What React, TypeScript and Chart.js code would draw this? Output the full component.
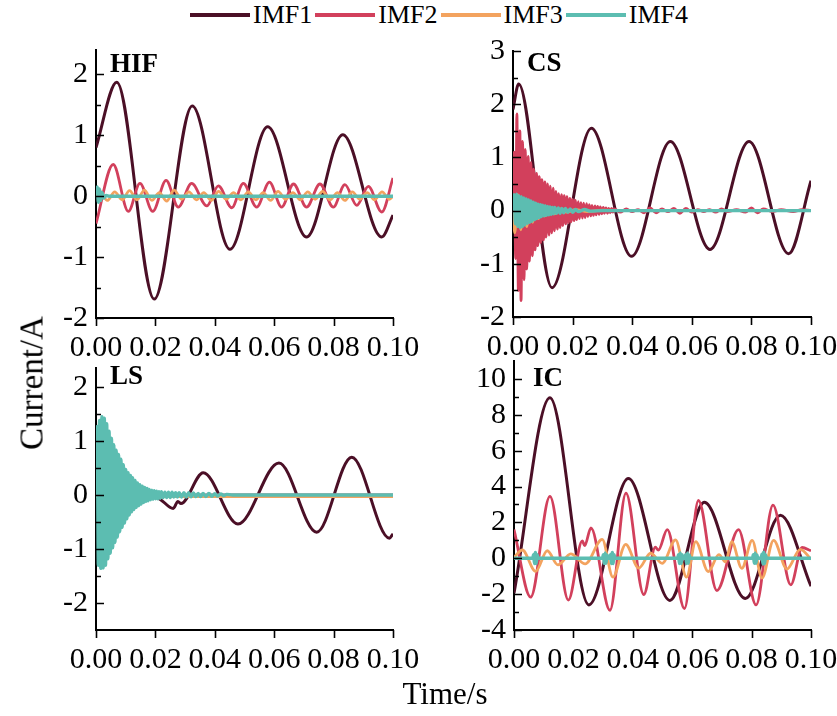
import React, { useEffect, useRef } from 'react';
import { Chart, registerables } from 'chart.js';
Chart.register(...registerables);

const FONT = "'Liberation Serif', 'Times New Roman', Times, serif";

const seriesNames = ['IMF1', 'IMF2', 'IMF3', 'IMF4'];
const seriesColors = ['#4b0f26', '#d2405c', '#f3a35f', '#5cbdb1'];
const seriesWidths = [3, 2.8, 2.8, 3.4];

const xTicks = [0, 0.02, 0.04, 0.06, 0.08, 0.1];

// ---------- HIF ----------
const hifYTicks = [-2, -1, 0, 1, 2];
const hifYMinor = [-1.5, -0.5, 0.5, 1.5];
const hifImf1T = [0, 0.007, 0.0196, 0.0324, 0.0451, 0.0578, 0.0709, 0.0831, 0.0962, 0.1];
const hifImf1V = [0.8, 1.87, -1.69, 1.48, -0.87, 1.14, -0.67, 1.01, -0.67, -0.31];
const hifImf2T = [0, 0.0058, 0.0109, 0.0148, 0.0191, 0.0236, 0.0277, 0.0322, 0.0373, 0.0412, 0.0457, 0.0496, 0.0541, 0.0584, 0.0625, 0.0665, 0.0709, 0.0754, 0.0799, 0.0838, 0.0878, 0.0917, 0.0962, 0.1];
const hifImf2V = [-0.45, 0.52, -0.25, 0.21, -0.25, 0.26, -0.18, 0.21, -0.16, 0.17, -0.19, 0.21, -0.18, 0.23, -0.18, 0.2, -0.18, 0.2, -0.18, 0.19, -0.15, 0.16, -0.26, 0.3];
const hifImf3T = [0, 0.0013, 0.0038, 0.0063, 0.0088, 0.0113, 0.0138, 0.0163, 0.0188, 0.0213, 0.0238, 0.0263, 0.0288, 0.0313, 0.0338, 0.0363, 0.0388, 0.0413, 0.0438, 0.0463, 0.0488, 0.0513, 0.0538, 0.0563, 0.0588, 0.0613, 0.0638, 0.0663, 0.0688, 0.0713, 0.0738, 0.0763, 0.0788, 0.0813, 0.0838, 0.0863, 0.0888, 0.0913, 0.0938, 0.0963, 0.0988, 0.1];
const hifImf3V = [0, 0.08, -0.07, 0.07, -0.06, 0.09, -0.06, 0.1, -0.07, 0.06, -0.08, 0.1, -0.05, 0.07, -0.06, 0.06, -0.07, 0.08, -0.05, 0.06, -0.06, 0.07, -0.06, 0.06, -0.07, 0.08, -0.05, 0.06, -0.06, 0.07, -0.05, 0.08, -0.06, 0.06, -0.07, 0.07, -0.05, 0.06, -0.06, 0.07, -0.05, 0];
const hifImf4T = [0, 0.0004, 0.0008, 0.0012, 0.0016, 0.002, 0.0026, 0.0034, 0.0045, 0.1];
const hifImf4V = [0.03, 0.15, -0.1, 0.12, -0.07, 0.06, -0.03, 0.01, 0, 0];

// ---------- CS ----------
const csYTicks = [-2, -1, 0, 1, 2, 3];
const csYMinor = [-1.5, -0.5, 0.5, 1.5, 2.5];
const csImf1T = [0, 0.0019, 0.0131, 0.0263, 0.0398, 0.0528, 0.0661, 0.0792, 0.0925, 0.1];
const csImf1V = [1.9, 2.38, -1.45, 1.55, -0.86, 1.3, -0.73, 1.3, -0.81, 0.56];
const csImf2T = [0, 0.0004, 0.0009, 0.0013, 0.0018, 0.0023, 0.0027, 0.0032, 0.0037, 0.0041, 0.0046, 0.0051, 0.0055, 0.006, 0.0065, 0.0069, 0.0074, 0.0079, 0.0083, 0.0088, 0.0093, 0.0097, 0.0102, 0.0107, 0.0111, 0.0116, 0.0121, 0.0125, 0.013, 0.0135, 0.0139, 0.0144, 0.0149, 0.0153, 0.0158, 0.0163, 0.0167, 0.0172, 0.0177, 0.0181, 0.0186, 0.0191, 0.0195, 0.02, 0.0205, 0.0209, 0.0214, 0.0219, 0.0223, 0.0228, 0.0233, 0.0237, 0.0242, 0.0247, 0.0251, 0.0256, 0.0261, 0.0265, 0.027, 0.0275, 0.0279, 0.0284, 0.0289, 0.0293, 0.0298, 0.0303, 0.0307, 0.0312, 0.0317, 0.0321, 0.0326, 0.0331, 0.0335, 0.034, 0.036, 0.038, 0.04, 0.042, 0.044, 0.046, 0.048, 0.05, 0.052, 0.054, 0.056, 0.058, 0.06, 0.062, 0.064, 0.066, 0.068, 0.07, 0.072, 0.075, 0.078, 0.08, 0.082, 0.084, 0.087, 0.09, 0.094, 0.097, 0.1];
const csImf2V = [0, 1.1, -0.9, 1.82, -1.5, 1.5, -1.69, 1.3, -1.3, 1.15, -1.1, 1.02, -0.95, 0.9, -0.85, 0.78, -0.74, 0.7, -0.66, 0.64, -0.6, 0.58, -0.55, 0.54, -0.5, 0.5, -0.46, 0.46, -0.42, 0.42, -0.38, 0.36, -0.35, 0.32, -0.32, 0.3, -0.28, 0.28, -0.25, 0.26, -0.23, 0.23, -0.21, 0.21, -0.19, 0.19, -0.17, 0.17, -0.15, 0.15, -0.14, 0.14, -0.13, 0.13, -0.11, 0.11, -0.1, 0.1, -0.09, 0.09, -0.08, 0.08, -0.07, 0.07, -0.06, 0.06, -0.05, 0.05, -0.05, 0.04, -0.04, 0.04, -0.03, 0.03, -0.03, 0.03, -0.02, 0.02, -0.04, 0.05, -0.04, 0.03, -0.02, 0.04, -0.05, 0.04, -0.03, 0.02, -0.02, 0.02, -0.03, 0.03, -0.02, 0.02, -0.03, 0.05, -0.04, 0.03, -0.02, 0.02, -0.02, 0.02, 0];
const csImf3T = [0, 0.0006, 0.0016, 0.0026, 0.0036, 0.0046, 0.0056, 0.0066, 0.0076, 0.0086, 0.0096, 0.0106, 0.012, 0.014, 0.016, 0.018, 0.021, 0.025, 0.03, 0.04, 0.1];
const csImf3V = [0, -0.42, 0.3, -0.36, 0.22, -0.3, 0.15, -0.22, 0.1, -0.15, 0.06, -0.1, 0.04, -0.06, 0.03, -0.03, 0.02, -0.02, 0.01, 0, 0];
const csImf4T = [0, 0.0004, 0.0008, 0.0012, 0.0016, 0.002, 0.0024, 0.0028, 0.0032, 0.0036, 0.004, 0.0044, 0.0048, 0.0052, 0.0056, 0.006, 0.0064, 0.0068, 0.0072, 0.0076, 0.008, 0.0084, 0.0088, 0.0092, 0.0096, 0.01, 0.0104, 0.0108, 0.0112, 0.0116, 0.012, 0.0124, 0.0128, 0.0132, 0.0136, 0.014, 0.0146, 0.0152, 0.0158, 0.0164, 0.017, 0.0176, 0.0184, 0.0192, 0.02, 0.021, 0.022, 0.024, 0.026, 0.03, 0.1];
const csImf4V = [0, 0.3, -0.25, 0.31, -0.3, 0.28, -0.32, 0.26, -0.3, 0.24, -0.27, 0.22, -0.24, 0.2, -0.22, 0.18, -0.2, 0.16, -0.17, 0.14, -0.15, 0.12, -0.13, 0.11, -0.11, 0.1, -0.1, 0.09, -0.09, 0.08, -0.08, 0.07, -0.07, 0.06, -0.06, 0.06, -0.05, 0.05, -0.05, 0.04, -0.04, 0.04, -0.03, 0.03, -0.03, 0.02, -0.02, 0.02, -0.01, 0, 0];

// ---------- LS ----------
const lsYTicks = [-2, -1, 0, 1, 2];
const lsYMinor = [-1.5, -0.5, 0.5, 1.5];
const lsImf1T = [0, 0.0205, 0.026, 0.0276, 0.0286, 0.0361, 0.0478, 0.0616, 0.0743, 0.0861, 0.0988, 0.1];
const lsImf1V = [0, -0.05, -0.25, -0.12, -0.16, 0.41, -0.54, 0.59, -0.69, 0.7, -0.8, -0.72];
const lsImf2T = [0, 0.1];
const lsImf2V = [0, 0];
const lsImf3T = [0, 0.1];
const lsImf3V = [-0.03, -0.03];
const lsImf4T = [0, 0.0004, 0.0008, 0.0012, 0.0016, 0.002, 0.0024, 0.0028, 0.0032, 0.0036, 0.004, 0.0044, 0.0048, 0.0052, 0.0056, 0.006, 0.0064, 0.0068, 0.0072, 0.0076, 0.008, 0.0084, 0.0088, 0.0092, 0.0096, 0.01, 0.0104, 0.0108, 0.0112, 0.0116, 0.012, 0.0124, 0.0128, 0.0132, 0.0136, 0.014, 0.0144, 0.0148, 0.0152, 0.0156, 0.016, 0.0164, 0.0168, 0.0172, 0.0176, 0.018, 0.0184, 0.0188, 0.0192, 0.0196, 0.02, 0.0204, 0.0208, 0.0212, 0.0216, 0.022, 0.0226, 0.0232, 0.0238, 0.0244, 0.025, 0.0256, 0.0262, 0.0268, 0.0274, 0.028, 0.0288, 0.0296, 0.0304, 0.0312, 0.032, 0.0328, 0.0336, 0.0344, 0.0352, 0.036, 0.037, 0.038, 0.039, 0.04, 0.041, 0.042, 0.043, 0.044, 0.046, 0.1];
const lsImf4V = [0, 1.27, -1.3, 1.38, -1.36, 1.45, -1.35, 1.42, -1.3, 1.32, -1.18, 1.18, -1.08, 1.05, -0.98, 0.93, -0.88, 0.83, -0.78, 0.75, -0.68, 0.66, -0.6, 0.56, -0.52, 0.47, -0.44, 0.41, -0.37, 0.36, -0.31, 0.32, -0.27, 0.27, -0.23, 0.22, -0.2, 0.19, -0.17, 0.16, -0.14, 0.14, -0.12, 0.12, -0.11, 0.1, -0.09, 0.09, -0.08, 0.08, -0.07, 0.07, -0.07, 0.06, -0.06, 0.06, -0.05, 0.05, -0.05, 0.05, -0.05, 0.05, -0.04, 0.04, -0.04, 0.04, -0.04, 0.04, -0.04, 0.04, -0.035, 0.035, -0.03, 0.03, -0.03, 0.03, -0.03, 0.03, -0.025, 0.025, -0.02, 0.02, -0.01, 0.01, 0, 0];

// ---------- IC ----------
const icYTicks = [-4, -2, 0, 2, 4, 6, 8, 10];
const icYMinor = [-3, -1, 1, 3, 5, 7, 9];
const icImf1T = [0, 0.0121, 0.0252, 0.0385, 0.0525, 0.0641, 0.0779, 0.0897, 0.1];
const icImf1V = [-1.95, 8.95, -2.6, 4.45, -2.35, 3.12, -2.25, 2.4, -1.56];
const icImf2T = [0, 0.0056, 0.0121, 0.0183, 0.023, 0.0238, 0.0259, 0.0323, 0.0377, 0.0437, 0.0476, 0.0486, 0.0516, 0.0574, 0.0621, 0.0683, 0.0756, 0.0815, 0.0872, 0.0932, 0.097, 0.1];
const icImf2V = [1.6, -2.17, 3.45, -2.33, 0.97, 0.7, 1.7, -2.9, 3.63, -2.02, 0.62, 0.45, 1.6, -2.8, 3.22, -1.8, 1.6, -2.6, 2.96, -1.48, 0.6, 0.42];
const icImf3T = [0, 0.0028, 0.0073, 0.0112, 0.0148, 0.0191, 0.024, 0.0297, 0.0333, 0.0376, 0.042, 0.046, 0.0499, 0.0544, 0.0581, 0.0612, 0.0654, 0.069, 0.0712, 0.0733, 0.0767, 0.0802, 0.0835, 0.0874, 0.0919, 0.0964, 0.1];
const icImf3V = [0.05, 0.46, -0.73, 0.42, -0.37, 0.24, -0.31, 1.05, -1.05, 0.77, -0.55, 0.28, -0.28, 1.02, -1.05, 0.93, -0.74, 0.2, -0.2, 0.93, -0.56, 1.0, -1.1, 1.0, -0.6, 0.5, -0.05];
const icImf4T = [0, 0.0063, 0.0066, 0.0069, 0.0072, 0.0075, 0.0078, 0.0081, 0.0298, 0.0301, 0.0304, 0.0307, 0.031, 0.0313, 0.0316, 0.0322, 0.0325, 0.0328, 0.0331, 0.0334, 0.0337, 0.034, 0.0551, 0.0554, 0.0557, 0.056, 0.0563, 0.0566, 0.0569, 0.0575, 0.0578, 0.0581, 0.0584, 0.0587, 0.059, 0.0593, 0.0803, 0.0806, 0.0809, 0.0812, 0.0815, 0.0818, 0.0821, 0.0832, 0.0835, 0.0838, 0.0841, 0.0844, 0.0847, 0.085, 0.1];
const icImf4V = [0, 0, 0.2, -0.3, 0.32, -0.3, 0.2, 0, 0, 0.2, -0.3, 0.3, -0.28, 0.18, 0, 0, 0.2, -0.3, 0.32, -0.3, 0.2, 0, 0, 0.2, -0.3, 0.3, -0.3, 0.2, 0, 0, 0.2, -0.3, 0.3, -0.28, 0.18, 0, 0, 0.2, -0.28, 0.3, -0.28, 0.18, 0, 0, 0.22, -0.32, 0.34, -0.3, 0.2, 0, 0];

// ---------- layout ----------
const YW = 50;
const XH = 40;
const TICK_SIZE = 30;

type Series = { t: number[]; v: number[] };
type PanelCfg = {
  key: string;
  label: string;
  labelDx: number;
  labelDy: number;
  canvas: { left: number; top: number; width: number; height: number };
  area: { left: number; top: number; right: number; bottom: number };
  yMin: number;
  yMax: number;
  yTicks: number[];
  yMinor: number[];
  series: Series[];
};

const panels: PanelCfg[] = [
  {
    key: 'HIF', label: 'HIF', labelDx: 14, labelDy: 22,
    canvas: { left: 0, top: 30, width: 420, height: 340 },
    area: { left: 96, top: 50, right: 393, bottom: 318 },
    yMin: -2, yMax: 2.4, yTicks: hifYTicks, yMinor: hifYMinor,
    series: [
      { t: hifImf1T, v: hifImf1V }, { t: hifImf2T, v: hifImf2V },
      { t: hifImf3T, v: hifImf3V }, { t: hifImf4T, v: hifImf4V },
    ],
  },
  {
    key: 'CS', label: 'CS', labelDx: 14, labelDy: 20,
    canvas: { left: 420, top: 30, width: 417, height: 340 },
    area: { left: 513, top: 51, right: 811, bottom: 317 },
    yMin: -2, yMax: 3, yTicks: csYTicks, yMinor: csYMinor,
    series: [
      { t: csImf1T, v: csImf1V }, { t: csImf2T, v: csImf2V },
      { t: csImf3T, v: csImf3V }, { t: csImf4T, v: csImf4V },
    ],
  },
  {
    key: 'LS', label: 'LS', labelDx: 14, labelDy: 16,
    canvas: { left: 0, top: 355, width: 420, height: 361 },
    area: { left: 96, top: 368, right: 393, bottom: 630 },
    yMin: -2.5, yMax: 2.35, yTicks: lsYTicks, yMinor: lsYMinor,
    series: [
      { t: lsImf1T, v: lsImf1V }, { t: lsImf2T, v: lsImf2V },
      { t: lsImf3T, v: lsImf3V }, { t: lsImf4T, v: lsImf4V },
    ],
  },
  {
    key: 'IC', label: 'IC', labelDx: 19, labelDy: 25,
    canvas: { left: 420, top: 352, width: 417, height: 364 },
    area: { left: 514, top: 361, right: 811, bottom: 630 },
    yMin: -4, yMax: 11, yTicks: icYTicks, yMinor: icYMinor,
    series: [
      { t: icImf1T, v: icImf1V }, { t: icImf2T, v: icImf2V },
      { t: icImf3T, v: icImf3V }, { t: icImf4T, v: icImf4V },
    ],
  },
];

function Panel({ cfg }: { cfg: PanelCfg }) {
  const ref = useRef<HTMLCanvasElement>(null);
  useEffect(() => {
    const c = cfg;
    const pad = {
      left: c.area.left - c.canvas.left - YW,
      top: c.area.top - c.canvas.top,
      right: c.canvas.left + c.canvas.width - c.area.right,
      bottom: c.canvas.top + c.canvas.height - c.area.bottom - XH,
    };
    const decor = {
      id: 'decor' + c.key,
      afterDraw(chart: any) {
        const { ctx, chartArea } = chart;
        const xs = chart.scales.x;
        const ys = chart.scales.y;
        ctx.save();
        ctx.strokeStyle = '#000';
        ctx.lineWidth = 1.6;
        ctx.beginPath();
        c.yTicks.forEach((v) => {
          const py = Math.round(ys.getPixelForValue(v)) + 0.5;
          ctx.moveTo(chartArea.left, py);
          ctx.lineTo(chartArea.left + 8, py);
        });
        c.yMinor.forEach((v) => {
          const py = Math.round(ys.getPixelForValue(v)) + 0.5;
          ctx.moveTo(chartArea.left, py);
          ctx.lineTo(chartArea.left + 5, py);
        });
        xTicks.forEach((v) => {
          const px = Math.round(xs.getPixelForValue(v)) + 0.5;
          ctx.moveTo(px, chartArea.bottom);
          ctx.lineTo(px, chartArea.bottom + 8);
        });
        ctx.stroke();
        ctx.fillStyle = '#000';
        ctx.font = 'bold 27px ' + FONT;
        ctx.textBaseline = 'alphabetic';
        ctx.textAlign = 'left';
        ctx.fillText(c.label, chartArea.left + c.labelDx, chartArea.top + c.labelDy);
        ctx.restore();
      },
    };
    const chart = new Chart(ref.current as HTMLCanvasElement, {
      type: 'line',
      data: {
        datasets: c.series.map((s, i) => ({
          label: seriesNames[i],
          data: s.t.map((x, j) => ({ x, y: s.v[j] })),
          borderColor: seriesColors[i],
          backgroundColor: seriesColors[i],
          borderWidth: seriesWidths[i],
          pointRadius: 0,
          pointHoverRadius: 0,
          cubicInterpolationMode: 'monotone',
          fill: false,
          order: 4 - i,
        })),
      },
      options: {
        animation: false,
        responsive: false,
        maintainAspectRatio: false,
        events: [],
        layout: { padding: pad },
        plugins: { legend: { display: false }, tooltip: { enabled: false } },
        scales: {
          x: {
            type: 'linear',
            min: 0,
            max: 0.1,
            grid: { display: false, drawTicks: false },
            border: { display: true, color: '#000', width: 2 },
            ticks: {
              padding: 12,
              color: '#000',
              font: { family: FONT, size: TICK_SIZE },
              maxRotation: 0,
              autoSkip: false,
              callback: (v: any) => Number(v).toFixed(2),
            },
            afterBuildTicks: (s: any) => { s.ticks = xTicks.map((value) => ({ value })); },
            afterFit: (s: any) => { s.height = XH; s.paddingLeft = 0; s.paddingRight = 0; },
          },
          y: {
            type: 'linear',
            min: c.yMin,
            max: c.yMax,
            grid: { display: false, drawTicks: false },
            border: { display: true, color: '#000', width: 2 },
            ticks: {
              padding: 8,
              color: '#000',
              font: { family: FONT, size: TICK_SIZE },
              autoSkip: false,
              callback: (v: any) => String(v),
            },
            afterBuildTicks: (s: any) => { s.ticks = c.yTicks.map((value) => ({ value })); },
            afterFit: (s: any) => { s.width = YW; s.paddingTop = 0; s.paddingBottom = 0; },
          },
        },
      } as any,
      plugins: [decor],
    });
    return () => chart.destroy();
  }, [cfg]);
  return (
    <canvas
      ref={ref}
      width={cfg.canvas.width}
      height={cfg.canvas.height}
      style={{ position: 'absolute', left: cfg.canvas.left, top: cfg.canvas.top, width: cfg.canvas.width, height: cfg.canvas.height }}
    />
  );
}

export default function App() {
  return (
    <div style={{ position: 'absolute', left: 0, top: 0, width: 837, height: 716, background: '#fff', overflow: 'hidden', fontFamily: FONT, color: '#000' }}>
      {panels.map((p) => <Panel key={p.key} cfg={p} />)}
      <div style={{ position: 'absolute', left: 190, top: 1, height: 28, display: 'flex', alignItems: 'center', fontSize: 26, whiteSpace: 'nowrap' }}>
        {seriesNames.map((n, i) => (
          <div key={n} style={{ display: 'flex', alignItems: 'center' }}>
            <div style={{ width: 60, height: 4, background: seriesColors[i], marginRight: 3 }} />
            <span style={{ marginRight: 3, lineHeight: '28px' }}>{n}</span>
          </div>
        ))}
      </div>
      <div style={{ position: 'absolute', left: 32, top: 383, transform: 'translate(-50%, -50%) rotate(-90deg)', fontSize: 33, whiteSpace: 'nowrap' }}>Current/A</div>
      <div style={{ position: 'absolute', left: 445, top: 694, transform: 'translate(-50%, -50%)', fontSize: 31, whiteSpace: 'nowrap' }}>Time/s</div>
    </div>
  );
}
